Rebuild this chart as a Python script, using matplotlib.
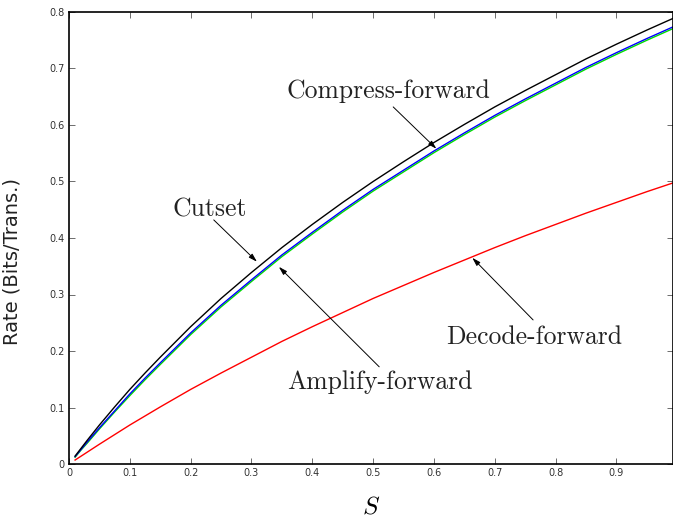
import matplotlib
matplotlib.use("Agg")
import matplotlib.pyplot as plt

plt.rcParams['mathtext.fontset'] = 'cm'

S = [0.01, 0.02, 0.03, 0.05, 0.075, 0.10, 0.125, 0.15, 0.20, 0.25, 0.30, 0.35, 0.40, 0.45, 0.50,
     0.55, 0.60, 0.65, 0.70, 0.75, 0.80, 0.85, 0.90, 0.95, 1.00]
cutset = [0.014, 0.028, 0.042, 0.069, 0.101, 0.132, 0.161, 0.189, 0.243, 0.293, 0.339, 0.383,
          0.424, 0.463, 0.500, 0.535, 0.569, 0.601, 0.632, 0.661, 0.689, 0.717, 0.743, 0.768, 0.792]
compress_fwd = [0.013, 0.026, 0.039, 0.064, 0.094, 0.124, 0.152, 0.179, 0.232, 0.281, 0.326,
                0.370, 0.410, 0.449, 0.486, 0.520, 0.554, 0.586, 0.617, 0.646, 0.674, 0.702,
                0.728, 0.753, 0.777]
amplify_fwd = [0.012, 0.025, 0.037, 0.062, 0.092, 0.121, 0.149, 0.176, 0.229, 0.278, 0.323,
               0.367, 0.407, 0.446, 0.483, 0.517, 0.551, 0.583, 0.614, 0.643, 0.671, 0.699,
               0.725, 0.750, 0.774]
decode_fwd = [0.007, 0.014, 0.021, 0.035, 0.052, 0.069, 0.085, 0.101, 0.132, 0.161, 0.189,
              0.217, 0.243, 0.268, 0.293, 0.316, 0.339, 0.361, 0.383, 0.404, 0.424, 0.444,
              0.463, 0.482, 0.500]

xticks = [0, 0.1, 0.2, 0.3, 0.4, 0.5, 0.6, 0.7, 0.8, 0.9]
xticklabels = ['0', '0.1', '0.2', '0.3', '0.4', '0.5', '0.6', '0.7', '0.8', '0.9']
yticks = [0, 0.1, 0.2, 0.3, 0.4, 0.5, 0.6, 0.7, 0.8]
yticklabels = ['0', '0.1', '0.2', '0.3', '0.4', '0.5', '0.6', '0.7', '0.8']

W, H = 673, 520
fig = plt.figure(figsize=(W / 100, H / 100), dpi=100)
ax = fig.add_axes([69 / W, (H - 464) / H, (673 - 69) / W, (464 - 12) / H])

ax.plot(S, decode_fwd, color='red', lw=1.0)
ax.plot(S, amplify_fwd, color='#00dd00', lw=1.0)
ax.plot(S, compress_fwd, color='blue', lw=1.0)
ax.plot(S, cutset, color='black', lw=1.0)

ax.set_xlim(0, 0.993)
ax.set_ylim(0, 0.8)
ax.set_xticks(xticks)
ax.set_xticklabels(xticklabels)
ax.set_yticks(yticks)
ax.set_yticklabels(yticklabels)
ax.tick_params(direction='in', length=4, width=0.6, top=True, right=True,
               labelsize=7, labelcolor='#333333', color='#555555', pad=3)
for sp in ax.spines.values():
    sp.set_linewidth(1.2)

ax.set_ylabel('Rate (Bits/Trans.)', fontsize=14, color='#222222')
ax.yaxis.set_label_coords(-0.078, 0.447)
ax.set_xlabel('$S$', fontsize=18, labelpad=12)

tfont = dict(family='cmr10', fontsize=18.5, color='#222222', ha='center', va='center')
ax.text(0.525, 0.660, 'Compress-forward', **tfont)
ax.text(0.231, 0.450, 'Cutset', **tfont)
ax.text(0.511, 0.145, 'Amplify-forward', **tfont)
ax.text(0.764, 0.225, 'Decode-forward', **tfont)

arr = dict(arrowstyle='-|>,head_length=0.5,head_width=0.15', color='black', lw=0.7,
           shrinkA=0, shrinkB=0)
ax.annotate('', xy=(0.604, 0.558), xytext=(0.533, 0.632), arrowprops=arr)
ax.annotate('', xy=(0.309, 0.358), xytext=(0.238, 0.432), arrowprops=arr)
ax.annotate('', xy=(0.345, 0.349), xytext=(0.510, 0.172), arrowprops=arr)
ax.annotate('', xy=(0.663, 0.365), xytext=(0.763, 0.255), arrowprops=arr)

fig.savefig('out.png', dpi=100)
